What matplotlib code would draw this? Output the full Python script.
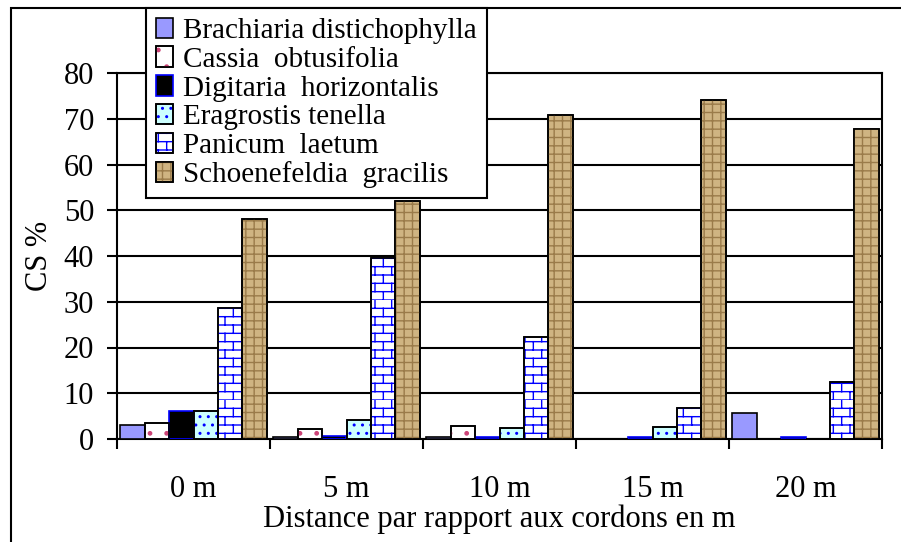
import warnings
import matplotlib
matplotlib.use('Agg')

import matplotlib.pyplot as plt
import matplotlib.hatch as mhatch
from matplotlib.path import Path
from matplotlib.patches import Patch, Rectangle
import numpy as np

warnings.filterwarnings('ignore')

# Data
distances = ['0 m', '5 m', '10 m', '15 m', '20 m']
species = ['Brachiaria distichophylla', 'Cassia  obtusifolia', 'Digitaria  horizontalis',
           'Eragrostis tenella', 'Panicum  laetum', 'Schoenefeldia  gracilis']
brachiaria = [3.0, 0.4, 0.4, 0.0, 5.7]
cassia = [3.5, 2.2, 2.8, 0.0, 0.0]
digitaria = [6.2, 0.6, 0.5, 0.5, 0.5]
eragrostis = [6.1, 4.1, 2.5, 2.7, 0.0]
panicum = [28.7, 39.6, 22.3, 6.7, 12.4]
schoenefeldia = [48.1, 52.1, 70.8, 74.2, 67.7]
values = [brachiaria, cassia, digitaria, eragrostis, panicum, schoenefeldia]

# Styles: face, edge, hatch, hatch colour
styles = [
    ('#9999ff', 'black', None, None),
    ('white', 'black', '.', '#cc4477'),
    ('black', '#0000ff', None, None),
    ('#ccffff', 'black', '..', '#0000ff'),
    ('white', 'black', 'B', '#0000ff'),
    ('#cfb482', 'black', '++', '#9a7b4a'),
]


# brick hatch ('B'), not available in matplotlib
class BrickHatch(mhatch.HatchPatternBase):
    rows, cols = 12, 6

    def __init__(self, hatch, density):
        self.num_vertices = 2 * (self.rows + self.rows * self.cols) if 'B' in hatch else 0

    def set_vertices_and_codes(self, vertices, codes):
        pts = []
        for r in range(self.rows):
            y0 = r / self.rows
            pts += [(0, y0), (1, y0)]
            for c in range(self.cols):
                xx = (c + 0.5 * (r % 2)) / self.cols
                pts += [(xx, y0), (xx, y0 + 1 / self.rows)]
        vertices[:] = pts
        codes[0::2] = Path.MOVETO
        codes[1::2] = Path.LINETO


mhatch._hatch_types.append(BrickHatch)

plt.rcParams['font.family'] = ['Liberation Serif', 'DejaVu Serif']
plt.rcParams['hatch.linewidth'] = 1.0

fig = plt.figure(figsize=(9.01, 5.42), dpi=100)
ax = fig.add_axes([117 / 901, 103 / 542, 765 / 901, 366 / 542])

x = np.arange(len(distances))
w = 0.16
handles = []
for i, (vals, (fc, ec, hatch, hc)) in enumerate(zip(values, styles)):
    pos = x + (i - 2.5) * w
    ax.bar(pos, vals, w, color=fc, edgecolor=ec, linewidth=1.2, zorder=3)
    parts = [Patch(facecolor=fc, edgecolor=ec, linewidth=1.2)]
    if hatch:
        ax.bar(pos, vals, w, color='none', edgecolor=hc, hatch=hatch, linewidth=0, zorder=4)
        ax.bar(pos, vals, w, color='none', edgecolor=ec, linewidth=1.2, zorder=5)
        parts.append(Patch(facecolor='none', edgecolor=hc, hatch=hatch, linewidth=0))
        parts.append(Patch(facecolor='none', edgecolor=ec, linewidth=1.2))
    handles.append(tuple(parts))

ax.set_xlim(-0.5, 4.5)
ax.set_ylim(0, 80)
ax.set_yticks(range(0, 81, 10))
ax.yaxis.grid(True, color='black', linewidth=1.5)
ax.set_axisbelow(True)

ax.set_xticks(x)
ax.set_xticklabels(distances)
ax.set_xticks(np.arange(-0.5, 5, 1), minor=True)
ax.tick_params(axis='x', which='major', length=0, pad=26, labelsize=22)
ax.tick_params(axis='x', which='minor', length=7.5, width=1.5, direction='out')
ax.tick_params(axis='y', length=7.5, width=1.5, direction='out', pad=9, labelsize=22)

for s in ax.spines.values():
    s.set_linewidth(1.5)

ax.set_ylabel('CS %', fontsize=22)
ax.yaxis.set_label_coords(-0.083, 0.5)
ax.set_xlabel('Distance par rapport aux cordons en m', fontsize=22)
ax.xaxis.set_label_coords(0.5, -0.18)

leg = fig.legend(handles, species, loc='upper left',
                 bbox_to_anchor=(146 / 901, 1 - 8 / 542), bbox_transform=fig.transFigure,
                 borderaxespad=0, fontsize=21, handlelength=0.6, handleheight=0.7,
                 handletextpad=0.35, labelspacing=0.08, borderpad=0.33,
                 fancybox=False, framealpha=1, edgecolor='black')
leg.get_frame().set_linewidth(1.5)
leg.set_zorder(10)

# outer chart border
fig.add_artist(Rectangle((11 / 901, -0.1), 1.2, 1.1 - 8 / 542, transform=fig.transFigure,
                         fill=False, edgecolor='black', linewidth=1.5, zorder=0))

fig.savefig('out.png', dpi=100)
